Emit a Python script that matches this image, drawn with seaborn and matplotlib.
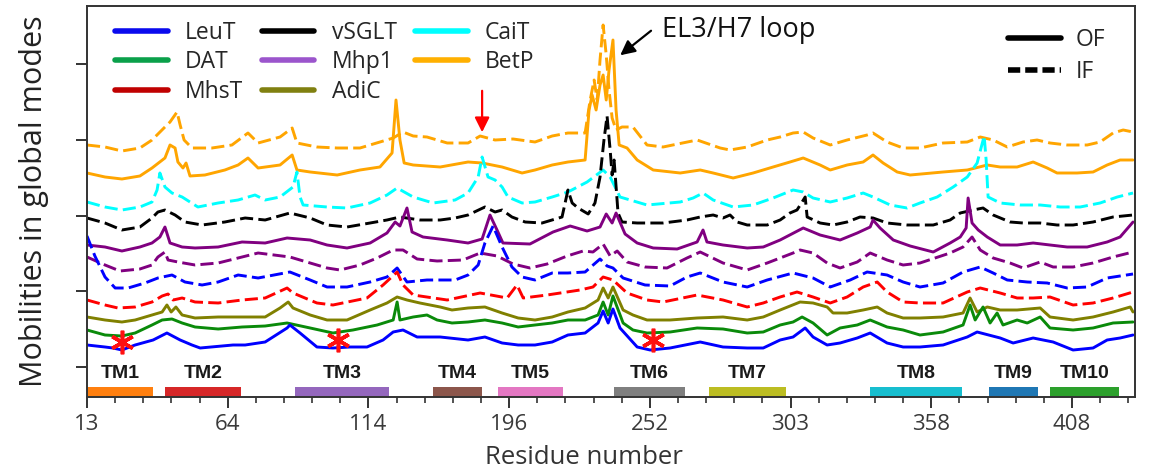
import matplotlib
matplotlib.use("Agg")
import matplotlib.pyplot as plt
from matplotlib.lines import Line2D
import pandas as pd
import seaborn as sns

# ---------------------------------------------------------------------------
# Mobility profiles in the global modes (alignment position, stacked mobility)
# OF = outward-facing, IF = inward-facing
# ---------------------------------------------------------------------------
leut_of = [(0, 0.52), (6.4, 0.50), (9.2, 0.49), (12.4, 0.47), (17.1, 0.52), (23.5, 0.57), (28.4, 0.64),
           (33.1, 0.57), (37.3, 0.52), (40.2, 0.49), (51.9, 0.52), (56.2, 0.52), (63.3, 0.55), (71.1, 0.69),
           (72.1, 0.72), (75.7, 0.64), (81.7, 0.50), (87.4, 0.49), (93.5, 0.50), (99.5, 0.50), (105.2, 0.57),
           (108.8, 0.65), (112.3, 0.67), (117.3, 0.60), (125.5, 0.60), (135.4, 0.57), (141.4, 0.60),
           (147.5, 0.54), (153.2, 0.52), (159.2, 0.52), (165.3, 0.55), (170.9, 0.62), (177.0, 0.64),
           (181.6, 0.74), (183.4, 0.86), (185.2, 0.74), (186.9, 0.88), (189.4, 0.69), (195.5, 0.50),
           (200.1, 0.47), (207.2, 0.49), (217.9, 0.55), (226.0, 0.50), (234.6, 0.49), (240.3, 0.49),
           (246.3, 0.57), (250.9, 0.60), (255.2, 0.69), (258.0, 0.60), (263.0, 0.52), (267.6, 0.54),
           (273.7, 0.59), (278.3, 0.64), (284.3, 0.54), (290.0, 0.50), (296.0, 0.50), (304.2, 0.52),
           (312.8, 0.60), (316.3, 0.65), (324.5, 0.59), (329.1, 0.54), (336.2, 0.59), (343.3, 0.55),
           (350.4, 0.47), (357.5, 0.49), (362.5, 0.57), (367.1, 0.59), (371.7, 0.62)]

dat_of = [(0, 0.67), (6.4, 0.62), (12.4, 0.61), (17.1, 0.64), (23.1, 0.72), (26.7, 0.77), (30.2, 0.78),
          (33.8, 0.74), (38.4, 0.70), (46.6, 0.68), (55.1, 0.70), (63.3, 0.71), (71.1, 0.74), (79.3, 0.69),
          (87.4, 0.64), (94.5, 0.67), (103.1, 0.72), (108.8, 0.77), (110.2, 0.95), (111.2, 0.77),
          (115.9, 0.80), (120.8, 0.82), (124.4, 0.77), (129.7, 0.74), (135.4, 0.75), (141.4, 0.77),
          (147.5, 0.74), (153.2, 0.70), (159.2, 0.72), (165.3, 0.74), (170.9, 0.77), (177.0, 0.77),
          (181.6, 0.82), (183.4, 0.95), (185.2, 0.82), (186.9, 1.01), (190.5, 0.74), (194.0, 0.67),
          (199.0, 0.64), (207.2, 0.65), (216.8, 0.69), (226.0, 0.68), (234.6, 0.64), (240.3, 0.65),
          (246.3, 0.72), (250.9, 0.75), (254.1, 0.80), (258.0, 0.74), (263.0, 0.62), (267.6, 0.69),
          (273.7, 0.72), (278.3, 0.77), (284.3, 0.70), (290.0, 0.67), (296.0, 0.62), (304.2, 0.65),
          (311.3, 0.72), (313.8, 0.92), (315.6, 0.77), (318.4, 0.90), (320.9, 0.74), (323.4, 0.84),
          (325.5, 0.72), (330.5, 0.77), (334.1, 0.74), (338.7, 0.80), (342.2, 0.69), (350.4, 0.67),
          (357.5, 0.69), (364.6, 0.74), (371.7, 0.75)]

adic_of = [(0, 0.80), (6.4, 0.77), (12.4, 0.75), (17.1, 0.77), (23.1, 0.82), (26.7, 0.85), (28.4, 0.92),
           (29.9, 0.85), (31.6, 0.90), (33.8, 0.82), (38.4, 0.79), (46.6, 0.80), (55.1, 0.80), (63.3, 0.80),
           (68.6, 0.89), (71.5, 0.95), (73.2, 0.89), (79.3, 0.82), (85.3, 0.77), (92.4, 0.77), (100.6, 0.87),
           (106.6, 0.94), (110.2, 1.00), (113.7, 0.97), (118.3, 0.94), (125.5, 0.90), (129.7, 0.87),
           (135.4, 0.89), (141.4, 0.90), (147.5, 0.84), (153.2, 0.79), (159.2, 0.77), (165.3, 0.80),
           (170.9, 0.85), (177.0, 0.89), (181.6, 0.97), (183.4, 1.09), (185.2, 0.99), (186.9, 1.10),
           (190.5, 0.87), (194.0, 0.82), (199.0, 0.77), (207.2, 0.77), (216.8, 0.79), (226.0, 0.80),
           (234.6, 0.77), (240.3, 0.80), (246.3, 0.87), (253.4, 0.95), (258.0, 0.94), (263.0, 0.90),
           (265.1, 0.84), (270.1, 0.84), (275.8, 0.87), (280.8, 0.90), (284.3, 0.84), (290.0, 0.79),
           (296.0, 0.79), (304.2, 0.80), (311.3, 0.84), (313.8, 0.99), (316.3, 0.85), (319.9, 0.90),
           (324.5, 0.87), (330.5, 0.87), (338.7, 0.89), (342.2, 0.80), (350.4, 0.77), (357.5, 0.80),
           (364.6, 0.85), (370.7, 0.90), (371.7, 0.85)]

mhst_if = [(0, 0.97), (6.4, 0.92), (11.0, 0.89), (17.1, 0.90), (23.1, 0.95), (26.7, 1.01), (28.8, 1.03),
           (30.6, 0.97), (33.8, 0.99), (38.4, 0.95), (46.6, 0.94), (55.1, 0.97), (63.3, 0.99), (71.1, 1.09),
           (73.2, 1.04), (81.7, 0.94), (87.4, 0.92), (99.5, 0.99), (105.2, 1.12), (110.2, 1.25),
           (112.3, 1.12), (115.9, 1.02), (128.0, 0.97), (139.7, 1.04), (149.3, 0.99), (152.8, 1.12),
           (155.0, 0.99), (163.5, 1.02), (175.2, 1.07), (179.8, 1.10), (183.4, 1.20), (186.9, 1.17),
           (191.9, 1.04), (199.0, 0.97), (204.7, 0.95), (216.8, 1.02), (226.0, 0.97), (234.6, 0.90),
           (240.3, 0.94), (246.3, 1.00), (252.3, 1.05), (258.0, 1.00), (264.1, 0.94), (270.1, 1.00),
           (275.8, 1.10), (280.8, 1.15), (284.3, 1.05), (290.0, 0.95), (296.0, 0.94), (304.2, 0.94),
           (312.8, 1.05), (317.4, 1.09), (324.5, 1.04), (330.5, 0.99), (336.2, 0.99), (342.2, 1.00),
           (350.4, 0.92), (357.5, 0.94), (364.6, 0.99), (371.7, 1.05)]

leut_if = [(0, 1.61), (2.8, 1.41), (6.4, 1.20), (10.0, 1.09), (14.6, 1.09), (20.6, 1.14), (25.2, 1.19),
           (30.2, 1.22), (34.8, 1.15), (40.9, 1.12), (46.6, 1.15), (53.7, 1.22), (60.8, 1.19), (72.1, 1.25),
           (79.3, 1.17), (85.3, 1.10), (92.4, 1.10), (100.6, 1.15), (106.6, 1.20), (110.2, 1.29),
           (113.7, 1.15), (120.8, 1.17), (130.8, 1.17), (135.4, 1.22), (139.0, 1.32), (141.4, 1.54),
           (144.3, 1.71), (147.5, 1.50), (151.0, 1.30), (154.6, 1.20), (159.2, 1.17), (165.3, 1.24),
           (170.9, 1.24), (177.0, 1.25), (182.3, 1.38), (184.8, 1.31), (186.9, 1.29), (190.5, 1.19),
           (198.3, 1.12), (207.2, 1.11), (213.2, 1.20), (217.9, 1.24), (226.0, 1.15), (234.6, 1.10),
           (241.7, 1.17), (250.9, 1.24), (258.0, 1.19), (264.1, 1.10), (271.2, 1.17), (277.2, 1.25),
           (284.3, 1.22), (290.0, 1.15), (296.0, 1.10), (304.2, 1.14), (311.3, 1.25), (317.4, 1.30),
           (322.0, 1.24), (327.0, 1.17), (334.1, 1.15), (341.2, 1.14), (348.3, 1.09), (355.4, 1.10),
           (362.5, 1.19), (371.7, 1.23)]

mhp1_if = [(0, 1.40), (6.4, 1.32), (11.7, 1.26), (18.8, 1.28), (23.1, 1.32), (25.2, 1.40), (27.7, 1.45),
           (28.8, 1.37), (32.3, 1.35), (38.4, 1.32), (46.6, 1.34), (55.1, 1.40), (60.8, 1.44), (72.1, 1.40),
           (79.3, 1.34), (85.3, 1.29), (89.9, 1.27), (97.0, 1.32), (103.1, 1.39), (108.8, 1.47),
           (112.3, 1.47), (117.3, 1.38), (124.4, 1.36), (133.6, 1.37), (139.7, 1.44), (145.7, 1.41),
           (151.4, 1.33), (157.4, 1.29), (163.5, 1.33), (170.6, 1.41), (176.3, 1.46), (179.8, 1.45),
           (183.4, 1.53), (185.9, 1.41), (188.4, 1.46), (191.9, 1.35), (198.3, 1.30), (206.1, 1.29),
           (213.2, 1.39), (217.9, 1.45), (226.0, 1.34), (234.6, 1.27), (241.7, 1.34), (250.9, 1.44),
           (253.4, 1.47), (258.0, 1.44), (263.0, 1.34), (267.6, 1.29), (273.7, 1.35), (278.3, 1.44),
           (284.3, 1.37), (290.0, 1.32), (296.0, 1.34), (306.7, 1.44), (311.3, 1.50), (314.5, 1.60),
           (317.4, 1.47), (322.0, 1.39), (328.0, 1.34), (332.6, 1.29), (338.7, 1.35), (343.3, 1.30),
           (350.4, 1.30), (357.5, 1.34), (364.6, 1.40), (371.7, 1.45)]

mhp1_of = [(0, 1.52), (6.4, 1.50), (12.4, 1.46), (18.8, 1.50), (23.1, 1.54), (25.9, 1.60), (27.7, 1.70),
           (29.5, 1.54), (33.8, 1.50), (38.4, 1.49), (46.6, 1.50), (55.1, 1.55), (63.3, 1.54), (71.1, 1.59),
           (79.3, 1.57), (85.3, 1.52), (92.4, 1.49), (100.6, 1.54), (106.6, 1.64), (109.5, 1.75),
           (111.2, 1.71), (113.7, 1.89), (115.5, 1.65), (119.4, 1.60), (128.0, 1.57), (135.4, 1.54),
           (140.4, 1.58), (143.2, 1.82), (145.7, 1.67), (147.8, 1.54), (157.4, 1.53), (165.6, 1.65),
           (171.7, 1.71), (177.7, 1.66), (182.3, 1.70), (184.5, 1.83), (186.6, 1.74), (188.0, 1.84),
           (191.2, 1.63), (195.5, 1.54), (201.2, 1.49), (209.7, 1.48), (216.8, 1.55), (218.9, 1.67),
           (220.3, 1.55), (226.0, 1.52), (234.6, 1.49), (240.3, 1.50), (246.3, 1.57), (254.5, 1.69),
           (260.5, 1.62), (267.6, 1.57), (273.7, 1.64), (278.3, 1.70), (279.3, 1.77), (281.8, 1.69),
           (286.5, 1.57), (292.5, 1.51), (300.7, 1.45), (306.7, 1.54), (310.3, 1.60), (312.4, 1.69),
           (313.1, 1.99), (314.5, 1.74), (316.7, 1.67), (319.9, 1.60), (324.5, 1.52), (330.5, 1.52),
           (336.2, 1.54), (342.2, 1.52), (348.3, 1.50), (355.4, 1.50), (362.5, 1.55), (367.1, 1.60),
           (371.7, 1.75)]

vsglt_if = [(0, 1.79), (6.4, 1.74), (12.4, 1.67), (18.8, 1.70), (23.1, 1.79), (25.2, 1.85), (27.7, 1.87),
            (31.3, 1.82), (34.8, 1.75), (40.9, 1.72), (49.0, 1.75), (56.2, 1.79), (63.3, 1.77), (72.1, 1.84),
            (79.3, 1.79), (85.3, 1.72), (92.4, 1.70), (100.6, 1.74), (106.6, 1.77), (111.2, 1.80),
            (118.3, 1.77), (125.5, 1.77), (130.8, 1.79), (135.4, 1.82), (141.4, 1.90), (145.0, 1.85),
            (147.5, 1.87), (151.0, 1.80), (155.7, 1.75), (161.7, 1.74), (168.8, 1.80), (170.9, 2.07),
            (172.4, 1.94), (174.5, 1.89), (178.1, 1.83), (180.5, 1.94), (182.3, 2.20), (183.7, 2.57),
            (184.8, 2.81), (185.9, 2.47), (186.6, 2.22), (187.3, 2.37), (188.7, 1.84), (190.1, 1.75),
            (195.5, 1.74), (204.7, 1.74), (213.2, 1.77), (217.9, 1.80), (222.5, 1.82), (226.0, 1.79),
            (228.5, 1.82), (231.0, 1.75), (234.6, 1.72), (241.7, 1.72), (246.3, 1.77), (249.8, 1.84),
            (252.3, 1.87), (254.1, 1.95), (255.2, 2.00), (255.9, 1.80), (260.5, 1.74), (265.1, 1.72),
            (270.1, 1.75), (274.7, 1.80), (279.3, 1.79), (284.3, 1.74), (291.4, 1.72), (300.7, 1.72),
            (306.7, 1.77), (310.3, 1.84), (314.9, 1.87), (318.4, 1.89), (322.0, 1.82), (328.0, 1.75),
            (332.6, 1.74), (338.7, 1.74), (344.7, 1.72), (350.4, 1.72), (357.5, 1.75), (364.6, 1.80),
            (371.7, 1.82)]

cait_if = [(0, 1.95), (6.4, 1.90), (12.4, 1.87), (18.8, 1.90), (23.1, 1.95), (24.9, 2.07), (25.9, 2.24),
           (27.7, 2.10), (30.2, 2.04), (33.8, 2.00), (39.4, 1.90), (46.6, 1.94), (53.7, 1.97), (59.7, 2.02),
           (63.3, 1.97), (68.6, 2.00), (73.2, 2.10), (74.6, 2.25), (75.7, 2.00), (76.8, 1.92), (85.3, 1.90),
           (92.4, 1.89), (100.6, 1.94), (106.6, 2.02), (110.2, 2.09), (115.9, 2.00), (123.0, 1.94),
           (130.8, 1.97), (135.4, 2.04), (139.0, 2.20), (140.4, 2.40), (142.5, 2.20), (145.0, 2.17),
           (147.5, 2.10), (149.6, 2.00), (154.6, 1.94), (159.2, 1.95), (165.3, 2.00), (170.9, 2.05),
           (177.7, 2.15), (183.4, 2.27), (185.9, 2.20), (189.4, 2.00), (199.0, 1.92), (210.8, 1.95),
           (215.4, 1.99), (218.9, 2.04), (222.5, 1.97), (229.6, 1.90), (236.7, 1.92), (243.8, 1.99),
           (250.9, 2.07), (254.5, 2.05), (258.0, 1.99), (264.1, 1.95), (270.1, 1.99), (275.8, 2.04),
           (279.3, 2.00), (285.4, 1.92), (291.4, 1.89), (296.0, 1.94), (302.1, 2.00), (307.8, 2.10),
           (312.8, 2.20), (316.3, 2.34), (318.8, 2.61), (319.5, 2.37), (320.2, 2.00), (324.5, 1.94),
           (331.6, 1.92), (338.7, 1.92), (345.8, 1.90), (352.9, 1.90), (360.0, 1.94), (366.1, 2.00),
           (371.7, 2.04)]

betp_of = [(0, 2.24), (6.4, 2.20), (12.4, 2.18), (18.8, 2.21), (23.1, 2.29), (27.7, 2.39), (29.5, 2.52),
           (31.3, 2.49), (32.3, 2.35), (34.1, 2.29), (35.2, 2.34), (36.6, 2.21), (41.9, 2.22), (49.0, 2.27),
           (53.7, 2.32), (57.2, 2.39), (60.8, 2.29), (68.6, 2.32), (72.9, 2.42), (74.6, 2.27), (79.3, 2.25),
           (88.9, 2.22), (97.0, 2.27), (104.1, 2.30), (108.4, 2.44), (109.8, 2.97), (111.2, 2.57),
           (112.7, 2.34), (115.9, 2.32), (125.5, 2.30), (135.4, 2.35), (140.4, 2.34), (147.5, 2.30),
           (154.6, 2.24), (159.2, 2.27), (165.3, 2.32), (170.9, 2.35), (177.0, 2.37), (178.4, 2.87),
           (179.5, 3.02), (180.9, 2.87), (182.3, 3.12), (183.4, 3.22), (184.5, 2.97), (185.5, 3.27),
           (186.9, 3.57), (188.0, 2.87), (189.1, 2.52), (191.9, 2.49), (195.5, 2.37), (201.2, 2.27),
           (210.8, 2.24), (217.9, 2.27), (222.5, 2.24), (229.6, 2.19), (236.7, 2.24), (243.8, 2.30),
           (249.8, 2.35), (254.5, 2.39), (260.5, 2.32), (264.1, 2.27), (270.1, 2.32), (275.8, 2.35),
           (279.3, 2.42), (282.9, 2.34), (287.9, 2.25), (292.5, 2.22), (304.2, 2.25), (312.8, 2.27),
           (319.9, 2.32), (324.5, 2.30), (330.5, 2.30), (336.2, 2.35), (341.2, 2.29), (344.7, 2.24),
           (351.8, 2.24), (357.5, 2.25), (362.5, 2.32), (367.1, 2.37), (371.7, 2.37)]

betp_if = [(0, 2.52), (6.4, 2.50), (12.4, 2.46), (18.8, 2.49), (23.1, 2.57), (27.7, 2.70), (29.5, 2.75),
           (32.0, 2.85), (33.1, 2.72), (34.5, 2.57), (37.3, 2.49), (44.4, 2.49), (51.5, 2.52), (57.2, 2.64),
           (60.8, 2.54), (68.6, 2.60), (72.9, 2.69), (74.6, 2.54), (81.7, 2.50), (88.9, 2.49), (97.0, 2.49),
           (104.1, 2.55), (108.8, 2.59), (112.3, 2.65), (115.9, 2.61), (120.8, 2.60), (128.0, 2.54),
           (135.4, 2.54), (139.7, 2.61), (145.0, 2.57), (151.4, 2.58), (159.2, 2.55), (165.3, 2.61),
           (170.9, 2.64), (177.0, 2.64), (178.8, 2.97), (180.2, 3.17), (181.3, 2.97), (182.3, 3.37),
           (183.4, 3.72), (184.5, 3.42), (185.5, 3.07), (186.6, 2.79), (188.0, 2.67), (190.1, 2.70),
           (194.0, 2.70), (199.0, 2.52), (204.7, 2.50), (216.8, 2.57), (225.0, 2.49), (228.5, 2.47),
           (234.6, 2.50), (241.7, 2.57), (246.3, 2.60), (250.9, 2.64), (254.5, 2.65), (258.0, 2.59),
           (264.1, 2.52), (270.1, 2.57), (277.2, 2.62), (279.3, 2.64), (284.3, 2.55), (290.0, 2.49),
           (296.0, 2.49), (304.2, 2.54), (312.8, 2.55), (317.4, 2.60), (322.0, 2.57), (327.0, 2.50),
           (332.6, 2.55), (337.6, 2.57), (342.2, 2.54), (348.3, 2.52), (355.4, 2.52), (360.0, 2.55),
           (364.6, 2.64), (368.2, 2.67), (371.7, 2.65)]

# drawing order: top of the stack first
profiles = [
    ("BetP", "IF", betp_if), ("BetP", "OF", betp_of), ("CaiT", "IF", cait_if),
    ("vSGLT", "IF", vsglt_if), ("Mhp1", "OF", mhp1_of), ("Mhp1", "IF", mhp1_if),
    ("LeuT", "IF", leut_if), ("MhsT", "IF", mhst_if), ("AdiC", "OF", adic_of),
    ("DAT", "OF", dat_of), ("LeuT", "OF", leut_of),
]

proteins = ["LeuT", "DAT", "MhsT", "vSGLT", "Mhp1", "AdiC", "CaiT", "BetP"]
line_colors = {"LeuT": "#0000ff", "DAT": "#0a8a0a", "MhsT": "#ff0000", "vSGLT": "#000000",
               "Mhp1": "#800080", "AdiC": "#808000", "CaiT": "#00ffff", "BetP": "#ffa500"}
legend_colors = ["#0a0aee", "#0aa04a", "#c00000", "#000000", "#9b55cc", "#808010", "#00ffff", "#ffb000"]

# residue numbering shown along the alignment axis
tick_pos = [0, 50, 100, 150, 200, 250, 300, 350]
tick_labels = ["13", "64", "114", "196", "252", "303", "358", "408"]

# transmembrane helices (alignment start, end)
tm_names = ["TM1", "TM2", "TM3", "TM4", "TM5", "TM6", "TM7", "TM8", "TM9", "TM10"]
tm_start = [0, 27.7, 73.9, 123.0, 146.1, 187.3, 221.1, 278.3, 320.6, 342.1]
tm_end = [23.4, 54.8, 107.3, 140.4, 169.2, 212.5, 248.4, 310.8, 337.9, 366.8]
tm_colors = ["#ff7f0e", "#d62728", "#9467bd", "#8c564b", "#e377c2",
             "#7f7f7f", "#bcbd22", "#17becf", "#1f77b4", "#2ca02c"]

# marked residues (asterisks) on the LeuT OF profile
star_pos = [12.4, 89.2, 201.0]
star_mob = [0.55, 0.57, 0.57]

sns.set_theme(style="white")
plt.rcParams["font.family"] = ["Open Sans", "DejaVu Sans"]

fig = plt.figure(figsize=(11.49, 4.72), dpi=100)
ax = fig.add_axes([87 / 1149, 1 - 397 / 472, 1048 / 1149, 391 / 472])

frames = []
for name, state, pts in profiles:
    df = pd.DataFrame(pts, columns=["position", "mobility"])
    df["protein"] = name
    df["state"] = state
    frames.append(df)
data = pd.concat(frames, ignore_index=True)

for (name, state, _) in profiles:
    sub = data[(data.protein == name) & (data.state == state)]
    ls = "-" if state == "OF" else (0, (4.5, 1.8))
    sns.lineplot(data=sub, x="position", y="mobility", ax=ax, color=line_colors[name],
                 lw=2.1, linestyle=ls, estimator=None, sort=False, legend=False)

# helix bars along the bottom
tm_width = [e - s for s, e in zip(tm_start, tm_end)]
ax.bar(tm_start, [0.10] * len(tm_start), width=tm_width, bottom=0,
       align="edge", color=tm_colors, linewidth=0)
for name, s, e in zip(tm_names, tm_start, tm_end):
    ax.text((s + e) / 2, 0.24, name, ha="center", va="center", fontsize=14,
            fontweight="bold", family="Liberation Sans", color="#1a1a1a")

ax.plot(star_pos, star_mob, linestyle="none", marker=(6, 2, 0), markersize=17,
        markeredgewidth=2.6, color="#ff1010")

# annotations
ax.annotate("", xy=(140.4, 2.62), xytext=(140.4, 3.09),
            arrowprops=dict(arrowstyle="-|>", color="#ff0000", lw=1.6, mutation_scale=22))
ax.annotate("", xy=(188.7, 3.40), xytext=(201.2, 3.68),
            arrowprops=dict(arrowstyle="-|>", color="black", lw=1.6, mutation_scale=22))
ax.text(204.4, 3.665, "EL3/H7 loop", fontsize=19.5, va="center", ha="left", color="#111111")

# legends
h1 = [Line2D([], [], color=c, lw=4) for c in legend_colors]
leg1 = ax.legend(h1, proteins, ncol=3, loc="upper left", bbox_to_anchor=(0.027, 0.962),
                 frameon=False, fontsize=16.5, handlelength=2.3, handletextpad=0.75,
                 columnspacing=0.8, labelspacing=0.24, borderpad=0, borderaxespad=0)
ax.add_artist(leg1)
h2 = [Line2D([], [], color="black", lw=4, linestyle="-"),
      Line2D([], [], color="black", lw=4, linestyle=(0, (2.2, 0.9)))]
ax.legend(h2, ["OF", "IF"], loc="upper left", bbox_to_anchor=(0.879, 0.944), frameon=False,
          fontsize=16.5, handlelength=2.3, handletextpad=0.65, labelspacing=0.36,
          borderpad=0, borderaxespad=0)

ax.set_xlim(0, 372.4)
ax.set_ylim(0, 3.91)
ax.set_xticks(tick_pos)
ax.set_xticklabels(tick_labels)
ax.set_xticks(range(0, 371, 10), minor=True)
ax.set_yticks([0.30, 1.057, 1.814, 2.571, 3.328])
ax.set_yticklabels([])
ax.tick_params(axis="both", which="major", direction="out", length=8, width=1.4,
               color="#333333", labelsize=16, labelcolor="#3a3a3a", pad=4)
ax.tick_params(axis="x", which="minor", direction="out", length=4.5, width=1.2,
               color="#333333", bottom=True)
ax.tick_params(left=True, bottom=True)
for sp in ax.spines.values():
    sp.set_visible(True)
    sp.set_color("#333333")
    sp.set_linewidth(1.4)

ax.set_xlabel("Residue number", fontsize=18.5, color="#333333")
ax.set_ylabel("Mobilities in global modes", fontsize=22, color="#222222")
ax.xaxis.set_label_coords(0.474, -0.122)
ax.yaxis.set_label_coords(-0.036, 0.5)

fig.savefig("out.png", dpi=100)
